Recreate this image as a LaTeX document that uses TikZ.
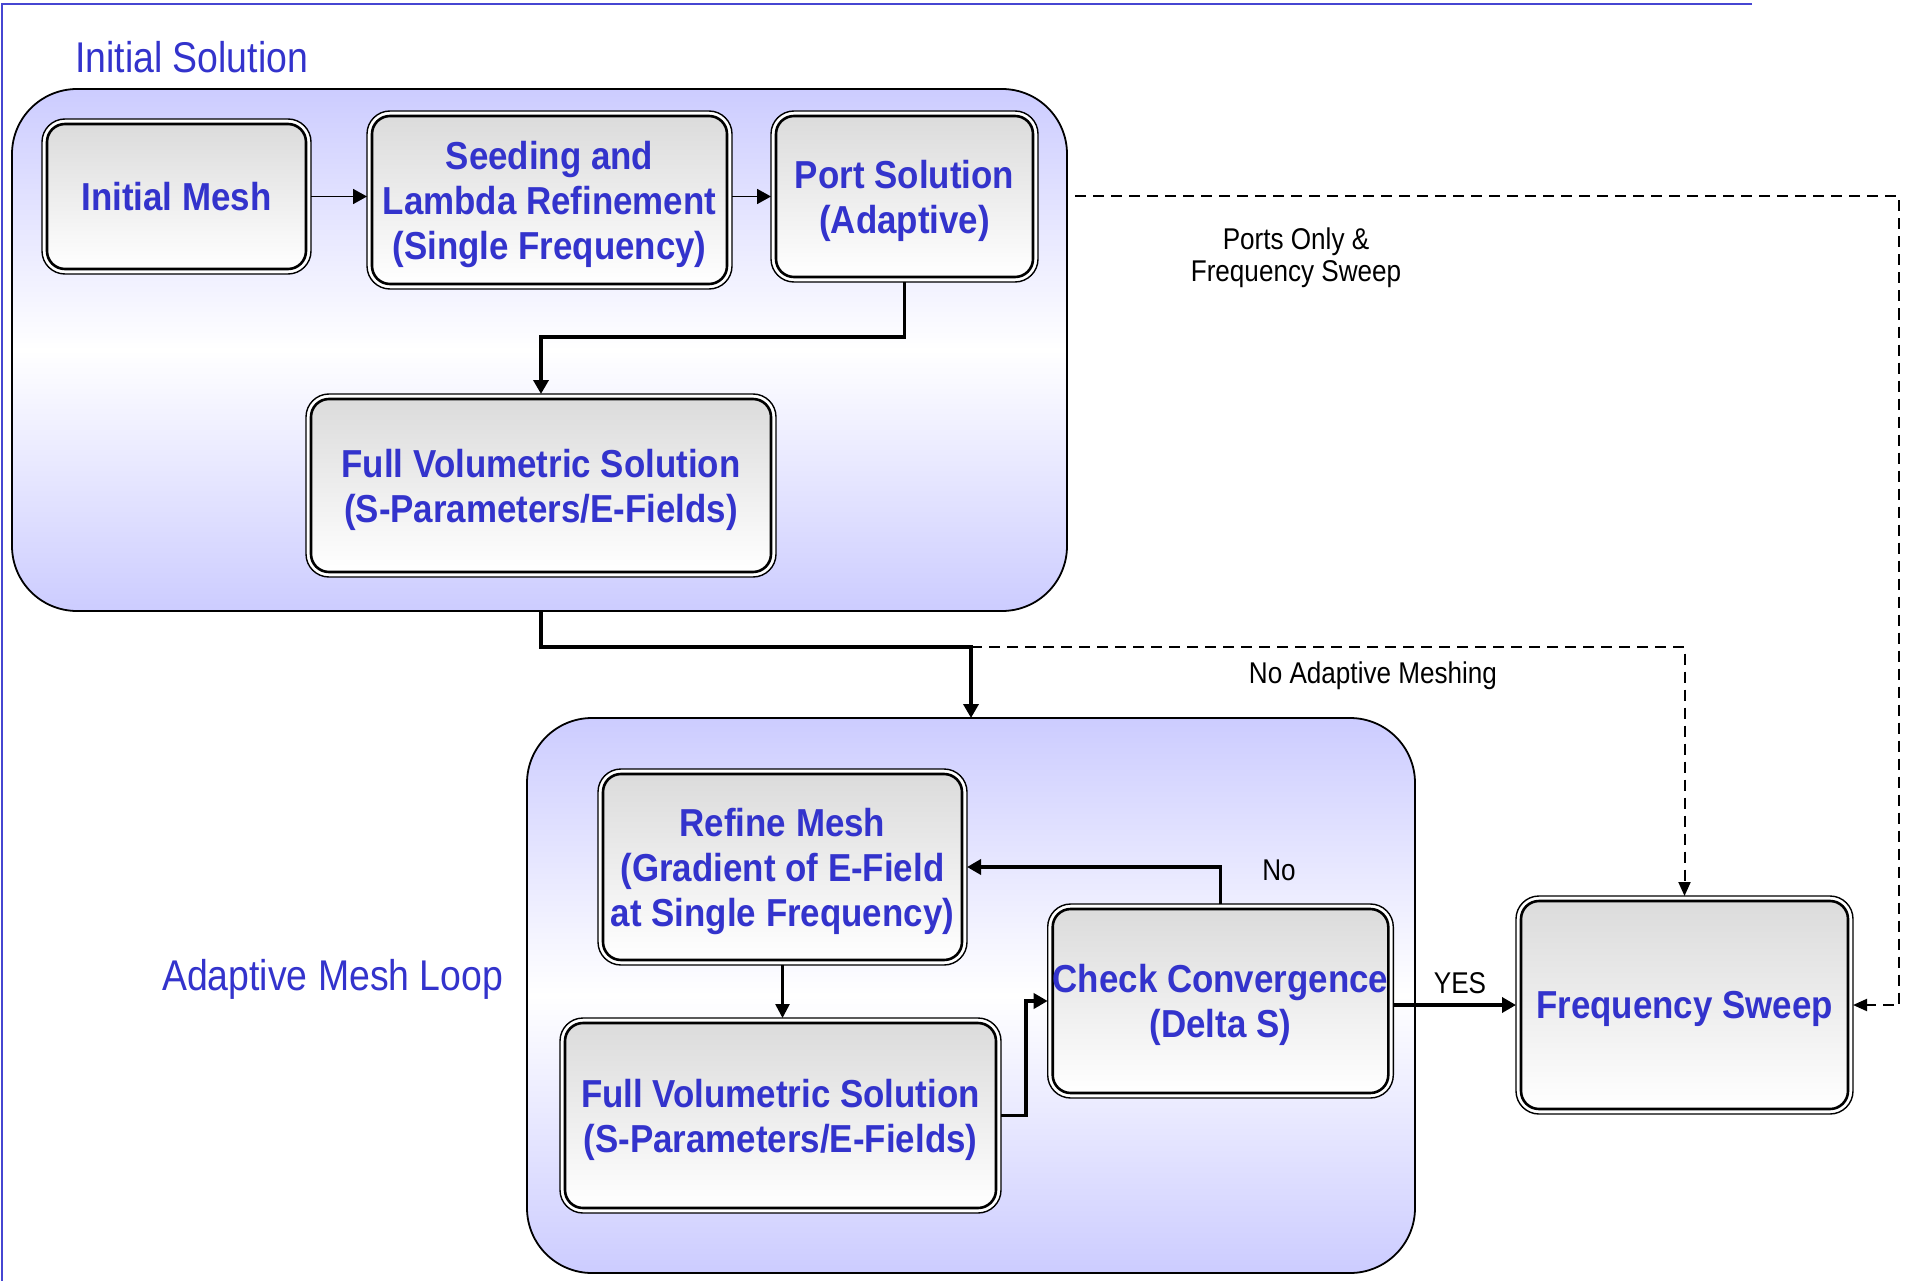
\documentclass[tikz,border=0pt]{standalone}
\usepackage{fontspec}
\setmainfont{Liberation Sans}[FakeStretch=0.87, BoldFeatures={FakeStretch=0.895}]
\usetikzlibrary{arrows.meta,calc}
\definecolor{txtblue}{RGB}{51,51,204}
\definecolor{lav}{RGB}{204,204,255}
\definecolor{framebl}{RGB}{70,70,210}
\pgfdeclarelayer{back}\pgfdeclarelayer{mid}\pgfsetlayers{back,mid,main}
\newcommand\bxfont{\fontsize{39}{45}\selectfont\bfseries}
\newcommand\lblfont{\fontsize{30}{32}\selectfont}
\newcommand\grpfont{\fontsize{43}{48}\selectfont}
\begin{document}
\begin{tikzpicture}[x=1pt,y=-1pt,
  grp/.style={draw=black, line width=1.8pt, rounded corners=65pt, top color=lav, bottom color=lav, middle color=white, inner sep=0pt, outer sep=0pt},
  bx/.style={draw=black, line width=2.6pt, rounded corners=18pt, top color=black!14, bottom color=white, align=center, text=txtblue, font=\bxfont, inner sep=0pt, outer sep=5pt, text depth=-4pt},
  outerframe/.style={draw=black, line width=1.4pt, fill=white, rounded corners=23pt},
  lbl/.style={font=\lblfont, text=black, align=center, inner sep=0pt},
  glbl/.style={font=\grpfont, text=txtblue, inner sep=0pt, anchor=west},
  conn/.style={line width=3.6pt, -{Triangle[length=14pt,width=15pt]}},
  thinconn/.style={line width=1.8pt, -{Triangle[length=14pt,width=15pt]}},
  dsh/.style={line width=2pt, dash pattern=on 11pt off 7pt, -{Triangle[length=14pt,width=12pt]}}
]
\useasboundingbox (0,0) rectangle (1917,1281);
% frame
\draw[framebl, line width=2pt] (1752,4) -- (2,4) -- (2,1281);
% groups
\begin{pgfonlayer}{back}
\fill[white] (0,0) rectangle (1917,1281);
\node[grp, minimum width=1055pt, minimum height=522pt] (g1) at (539.5,350) {};
\node[grp, minimum width=888pt, minimum height=555pt] (g2) at (971,995.5) {};
\end{pgfonlayer}
\node[glbl] (l1) at (75,57) {Initial Solution};
\node[glbl] (l2) at (162,979) {Adaptive Mesh Loop};
% boxes
\node[bx, minimum width=259pt, minimum height=145pt] (im) at (176.5,196.5) {Initial Mesh};
\node[bx, minimum width=355pt, minimum height=168pt] (seed) at (549.5,200) {Seeding and\\Lambda Refinement\\(Single Frequency)};
\node[bx, minimum width=257pt, minimum height=161pt] (port) at (904.5,196.5) {Port Solution\\(Adaptive)};
\node[bx, minimum width=460pt, minimum height=173pt] (fv1) at (541,485.5) {Full Volumetric Solution\\(S-Parameters/E-Fields)};
\node[bx, minimum width=359pt, minimum height=186pt] (rm) at (782.5,867) {Refine Mesh\\(Gradient of E-Field\\at Single Frequency)};
\node[bx, minimum width=431pt, minimum height=185pt] (fv2) at (780.5,1115.5) {Full Volumetric Solution\\(S-Parameters/E-Fields)};
\node[bx, minimum width=331pt, minimum height=184pt] (cc) at (1220.5,1001) {Check Convergence\\(Delta S)};
\node[bx, minimum width=327pt, minimum height=208pt] (fs) at (1684.5,1005) {Frequency Sweep};
\begin{pgfonlayer}{mid}
\foreach \n in {im,seed,port,fv1,rm,fv2,cc,fs}
  \path[outerframe] (\n.north west) rectangle (\n.south east);
\end{pgfonlayer}
% labels
\node[lbl] (portsonly) at (1296,258) {Ports Only \&\\Frequency Sweep};
\node[lbl] (noadapt) at (1373,676) {No Adaptive Meshing};
\node[lbl] (no) at (1279,870) {No};
\node[lbl] (yes) at (1460,983) {YES};
% connectors
\draw[thinconn] (im.east) -- (im.east -| seed.west);
\draw[thinconn] (im.east -| seed.east) -- (im.east -| port.west);
\draw[conn] (port.south) -- ++(0,55) -| (fv1.north);
\coordinate (jn) at ($(g2.north)+(0,-71)$);
\draw[conn] (fv1.south |- g1.south) |- (jn) -- (g2.north);
\draw[dsh] (jn) -| (fs.north);
\coordinate (rc) at ([xshift=46pt]fs.east);
\draw[dsh] ([xshift=8pt]g1.east |- port.east) -| (rc) -- (fs.east);
\draw[line width=2.6pt, -{Triangle[length=14pt,width=14pt]}] (rm.south) -- (rm.south |- fv2.north);
\draw[conn] (fv2.east) -- ++(25,0) |- (cc.west);
\draw[conn] (cc.north) |- (rm.east);
\draw[conn] (cc.east |- fs.west) -- (fs.west);
\end{tikzpicture}
\end{document}
